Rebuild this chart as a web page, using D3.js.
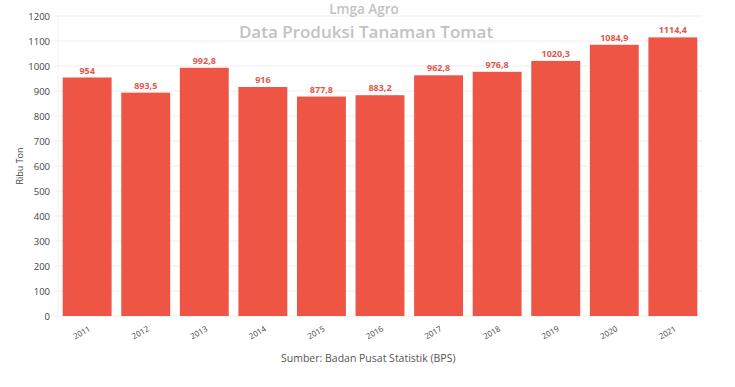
<!DOCTYPE html>
<html>
<head>
<meta charset="utf-8">
<script src="https://cdn.jsdelivr.net/npm/d3@7"></script>
<style>
	body { margin: 0; background: #fff; }
	svg { display: block; font-family: "Open Sans", sans-serif; }
</style>
</head>
<body>
<div id="chart"></div>
<script>
// Data
var years = ["2011", "2012", "2013", "2014", "2015", "2016", "2017", "2018", "2019", "2020", "2021"];
var production = [954, 893.5, 992.8, 916, 877.8, 883.2, 962.8, 976.8, 1020.3, 1084.9, 1114.4];
var yTicks = [0, 100, 200, 300, 400, 500, 600, 700, 800, 900, 1000, 1100, 1200];

var width = 735, height = 387;
var margin = {top: 16, right: 33, bottom: 71, left: 58};
var chartWidth = width - margin.left - margin.right;
var chartHeight = height - margin.top - margin.bottom;

var svg = d3.select("#chart")
	.append("svg")
	.attr("width", width)
	.attr("height", height);

var g = svg.append("g")
	.attr("transform", `translate(${margin.left}, ${margin.top})`);

var x = d3.scaleBand()
	.domain(years)
	.range([0, chartWidth])
	.paddingInner(0.165)
	.paddingOuter(0.08);

var y = d3.scaleLinear()
	.domain([0, 1200])
	.range([chartHeight, 0]);

// gridlines
g.append("g")
	.selectAll("line")
	.data(yTicks)
	.join("line")
	.attr("x1", -3)
	.attr("x2", chartWidth)
	.attr("y1", d => y(d))
	.attr("y2", d => y(d))
	.attr("stroke", "#eeeeee")
	.attr("stroke-width", 1);

g.append("line")
	.attr("x1", 0).attr("x2", 0)
	.attr("y1", 0).attr("y2", chartHeight)
	.attr("stroke", "#f2f2f2");

// y axis labels
var yAxis = d3.axisLeft(y).tickValues(yTicks).tickFormat(d3.format("d")).tickSize(0).tickPadding(8);
var yAxisG = g.append("g").call(yAxis);
yAxisG.select(".domain").remove();
yAxisG.selectAll("text")
	.attr("fill", "#444")
	.style("font-size", "9.5px")
	.style("font-family", "'Open Sans', sans-serif");

// bars
g.selectAll(".bar")
	.data(years)
	.join("rect")
	.attr("class", "bar")
	.attr("x", d => x(d))
	.attr("width", x.bandwidth())
	.attr("y", (d, i) => y(production[i]))
	.attr("height", (d, i) => chartHeight - y(production[i]))
	.attr("fill", "#ef5545");

// value labels
g.selectAll(".val")
	.data(years)
	.join("text")
	.attr("class", "val")
	.attr("x", d => x(d) + x.bandwidth() / 2)
	.attr("y", (d, i) => y(production[i]) - 4)
	.attr("text-anchor", "middle")
	.attr("fill", "#e4574b")
	.style("font-size", "9px")
	.style("font-weight", "bold")
	.text((d, i) => String(production[i]).replace(".", ","));

// x labels
g.selectAll(".xl")
	.data(years)
	.join("text")
	.attr("class", "xl")
	.attr("transform", d => `translate(${x(d) + x.bandwidth() / 2 - 4}, ${chartHeight + 19}) rotate(-30)`)
	.attr("text-anchor", "middle")
	.attr("fill", "#444")
	.style("font-size", "8px")
	.text(d => d);

// y axis title
svg.append("text")
	.attr("transform", `translate(23, ${margin.top + chartHeight / 2}) rotate(-90)`)
	.attr("text-anchor", "middle")
	.attr("fill", "#444")
	.style("font-size", "9px")
	.text("Ribu Ton");

// titles
svg.append("text")
	.attr("x", 364).attr("y", 14)
	.attr("text-anchor", "middle")
	.attr("fill", "#c2c2c2")
	.style("font-size", "13.5px")
	.style("font-weight", "600")
	.text("Lmga Agro");

svg.append("text")
	.attr("x", 366).attr("y", 38)
	.attr("text-anchor", "middle")
	.attr("fill", "#c2c2c2")
	.style("font-size", "17px")
	.style("font-weight", "600")
	.text("Data Produksi Tanaman Tomat");

// source
svg.append("text")
	.attr("x", 281).attr("y", 362)
	.attr("fill", "#555")
	.style("font-size", "10.5px")
	.text("Sumber: Badan Pusat Statistik (BPS)");
</script>
</body>
</html>
